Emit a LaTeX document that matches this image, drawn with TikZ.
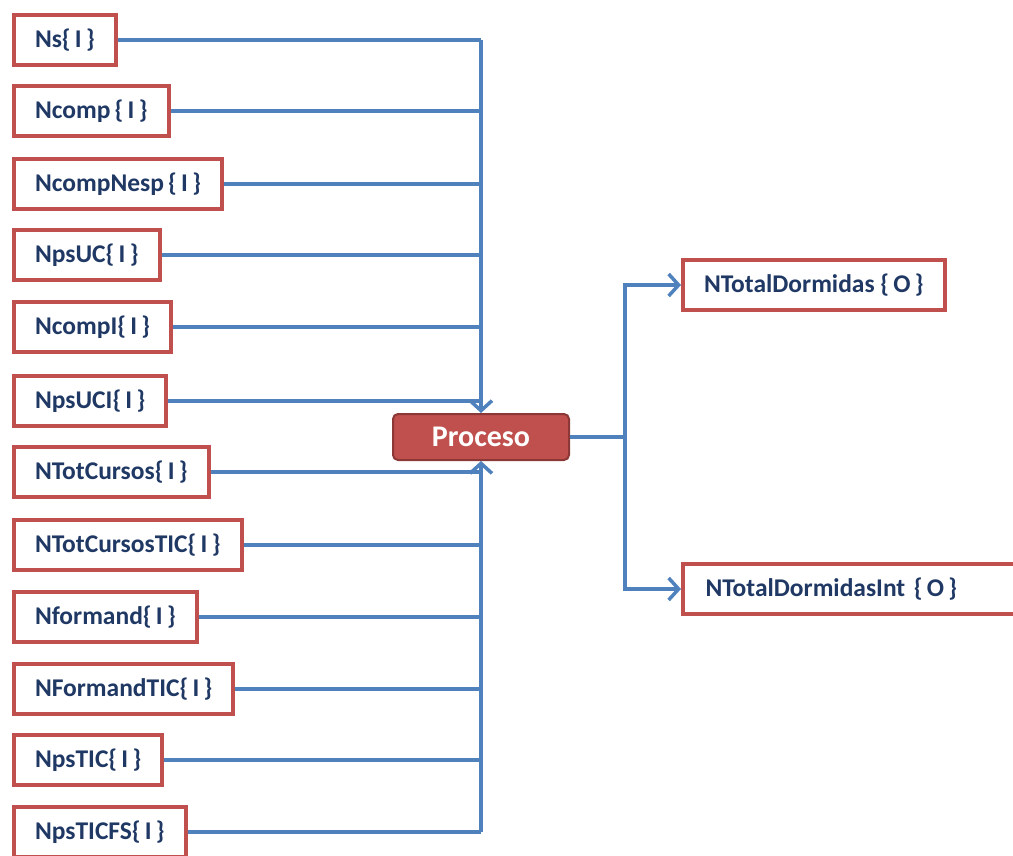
\documentclass[tikz,border=0pt]{standalone}
\usepackage{fontspec}
\setmainfont{Carlito}
\usetikzlibrary{arrows.meta}

\definecolor{boxred}{HTML}{C0504D}
\definecolor{darkred}{HTML}{8C3836}
\definecolor{linkblue}{HTML}{4F81BD}
\definecolor{navy}{HTML}{1F3864}

\newcommand{\inv}[1]{\{\,#1\,\}}

\tikzset{
  varbox/.style={draw=boxred, line width=4pt, fill=white, anchor=west,
    minimum height=50pt, inner xsep=21pt, text=navy,
    font=\fontsize{25.5}{28}\selectfont\bfseries},
  procbox/.style={draw=darkred, line width=2pt, fill=boxred, rounded corners=5pt,
    minimum width=176pt, minimum height=46pt, text=white,
    font=\fontsize{30}{33}\selectfont\bfseries},
  link/.style={draw=linkblue, line width=3.5pt},
  tip/.style={-{Straight Barb[length=10pt,width=22pt,line width=3.5pt]}}
}

\begin{document}
\begin{tikzpicture}[x=1pt,y=-1pt]
\useasboundingbox (0,0) rectangle (1013,856);
\clip (0,0) rectangle (1013,856);

% Process
\node[procbox] (proc) at (481,437) {Proceso};

% Input variables
\foreach \n/\yy/\txt in {1/40/Ns, 2/111/Ncomp\,, 3/184/NcompNesp\,,
    4/255/NpsUC, 5/327/NcompI, 6/401/NpsUCI,
    7/472/NTotCursos, 8/545/NTotCursosTIC, 9/617/Nformand,
    10/689/NFormandTIC, 11/760/NpsTIC, 12/832/NpsTICFS} {
  \node[varbox] (in\n) at (12,\yy) {\txt\inv{I}};
  \draw[link] (in\n.east) -- (in\n.east -| proc.north);
}

% Input bus
\draw[link, tip] (in1.east -| proc.north) -- (proc.north);
\draw[link, tip] (in12.east -| proc.south) -- (proc.south);

% Output variables
\node[varbox] (out1) at (681,285) {NTotalDormidas \inv{O}};
\node[varbox, minimum width=345pt, text width=300pt] (out2) at (681,589) {NTotalDormidasInt \inv{O}};

% Output bus
\path (proc.east) ++(55,0) coordinate (split);
\draw[link] (proc.east) -- (split);
\draw[link, tip] (split) |- (out1.west);
\draw[link, tip] (split) |- (out2.west);

\end{tikzpicture}
\end{document}
